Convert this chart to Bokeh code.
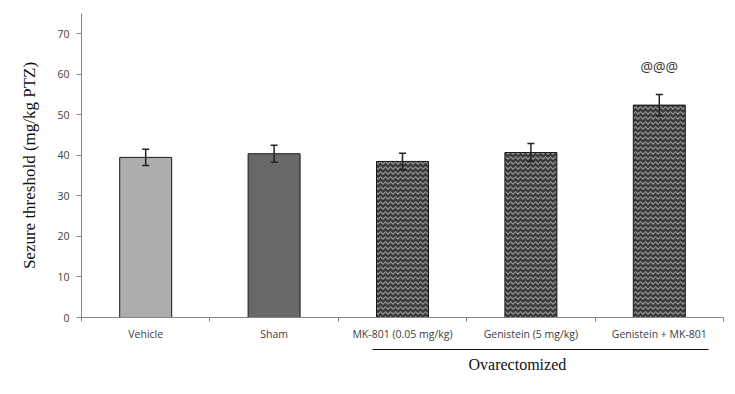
from bokeh.plotting import figure
from bokeh.models import (Range1d, FixedTicker, Whisker, TeeHead, ColumnDataSource,
                          LinearAxis, Title)
from bokeh.core.properties import value
from bokeh.embed import file_html
from bokeh.resources import INLINE

# ---- data ----
groups = ["Vehicle", "Sham", "MK-801 (0.05 mg/kg)", "Genistein (5 mg/kg)", "Genistein + MK-801"]
means = [39.5, 40.4, 38.5, 40.7, 52.4]
sems = [2.0, 2.1, 2.0, 2.2, 2.6]
signif = ["", "", "", "", "@@@"]
y_ticks = [0, 10, 20, 30, 40, 50, 60, 70]
subgroup_label = "Ovarectomized"
subgroup_span = (2.27, 4.88)   # extent of the bracket under the ovarectomized groups
y_title = "Sezure threshold (mg/kg PTZ)"

axis_col = "#868686"
lab_col = "#404040"

p = figure(width=735, height=394, x_range=Range1d(0, 5), y_range=Range1d(0, 75),
           x_axis_type=None, output_backend="svg", toolbar_location=None,
           min_border_left=81, min_border_right=12, min_border_top=13, min_border_bottom=77)
p.outline_line_color = None
p.grid.visible = False
p.background_fill_color = "white"

# y axis
p.yaxis.ticker = FixedTicker(ticks=y_ticks)
p.yaxis.major_tick_in = 0
p.yaxis.major_tick_out = 5
p.yaxis.minor_tick_line_color = None
p.yaxis.axis_line_color = axis_col
p.yaxis.major_tick_line_color = axis_col
p.yaxis.major_label_text_font = "Open Sans"
p.yaxis.major_label_text_font_size = "10.5px"
p.yaxis.major_label_text_color = lab_col
p.yaxis.major_label_standoff = 7
p.yaxis.axis_label = y_title
p.yaxis.axis_label_text_font = "Liberation Serif"
p.yaxis.axis_label_text_font_style = "normal"
p.yaxis.axis_label_text_font_size = "17px"
p.yaxis.axis_label_text_color = "#111111"
p.yaxis.axis_label_standoff = 15

# x axis: category names at centres, tick marks at the boundaries
xs = [i + 0.5 for i in range(len(groups))]
xaxis = LinearAxis(ticker=FixedTicker(ticks=xs, minor_ticks=list(range(len(groups) + 1))),
                   major_label_overrides={x: g for x, g in zip(xs, groups)})
xaxis.axis_line_color = axis_col
xaxis.major_tick_line_color = None
xaxis.major_tick_in = 0
xaxis.major_tick_out = 0
xaxis.minor_tick_line_color = axis_col
xaxis.minor_tick_in = 0
xaxis.minor_tick_out = 4
xaxis.major_label_standoff = 5
xaxis.major_label_text_font = "Open Sans"
xaxis.major_label_text_font_size = "10.5px"
xaxis.major_label_text_color = lab_col
xaxis.axis_label = " "
xaxis.axis_label_text_font_size = "3px"
xaxis.axis_label_standoff = 0
p.add_layout(xaxis, "below")

# bracket line under the ovarectomized groups
bracket = LinearAxis(ticker=FixedTicker(ticks=[]), bounds=subgroup_span)
bracket.axis_line_color = "#111111"
bracket.axis_line_width = 1.2
bracket.major_tick_line_color = None
bracket.minor_tick_line_color = None
bracket.major_label_text_font_size = "0px"
bracket.major_label_standoff = 0
bracket.major_tick_out = 0
p.add_layout(bracket, "below")

p.add_layout(Title(text=subgroup_label, align="left", offset=387, standoff=8,
                   text_font="Liberation Serif", text_font_style="normal",
                   text_font_size="16px", text_color="#111111"), "below")

colors = ["#adadad", "#686868", "#3a3a3a", "#3a3a3a", "#3a3a3a"]
hatches = [" ", " ", "horizontal_wave", "horizontal_wave", "horizontal_wave"]
src = ColumnDataSource(dict(
    x=xs, mean=means,
    upper=[m + s for m, s in zip(means, sems)],
    lower=[m - s for m, s in zip(means, sems)],
    color=colors, hatch=hatches, sig=signif))

p.vbar(x="x", top="mean", width=0.405, fill_color="color", line_color="#1a1a1a",
       line_width=1, hatch_pattern="hatch", hatch_color="#9a9a9a", hatch_scale=5,
       hatch_weight=1.1, source=src)

w = Whisker(base="x", upper="upper", lower="lower", source=src, level="annotation",
            line_color="#222222", line_width=1.5,
            upper_head=TeeHead(size=7, line_color="#222222", line_width=1.5),
            lower_head=TeeHead(size=7, line_color="#222222", line_width=1.5))
p.add_layout(w)

p.text(x="x", y="upper", text="sig", source=src, y_offset=-28, text_align="center",
       text_baseline="middle", text_font=value("Open Sans"), text_font_size="14px",
       text_color="#333333")

open("out.html", "w").write(file_html(p, INLINE))
